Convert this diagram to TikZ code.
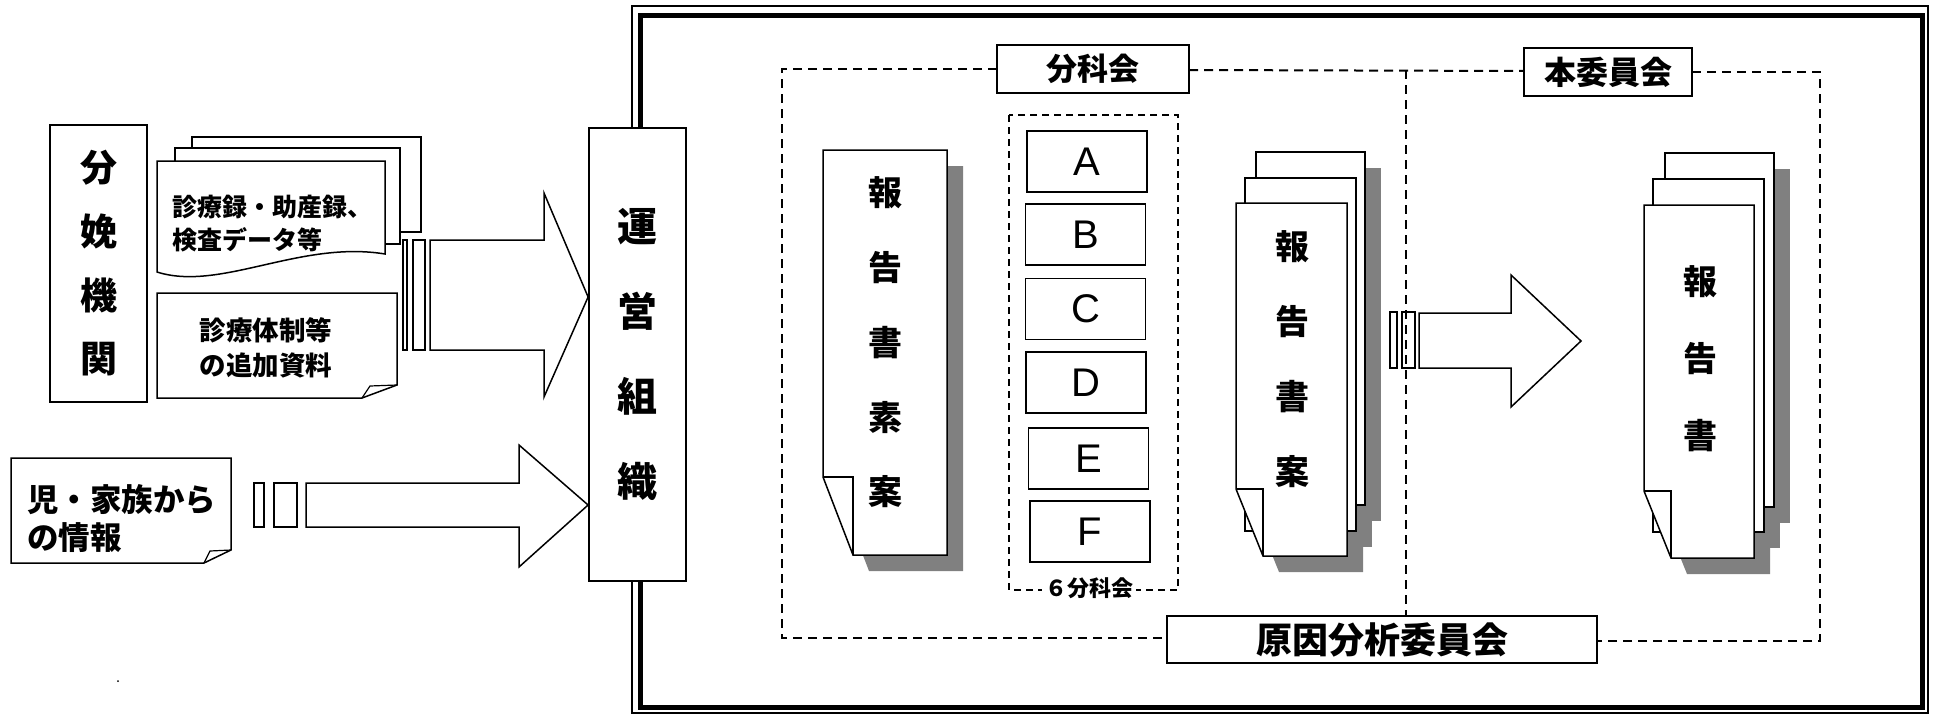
\documentclass[tikz,border=0pt]{standalone}
\usepackage{fontspec}
\setmainfont{Noto Sans CJK JP}
\newfontfamily\latinsans{Liberation Sans}
\begin{document}
\begin{tikzpicture}[x=1pt,y=-1pt,
  ln/.style={draw=black,line width=1.5pt},
  boxn/.style={draw=black,line width=1.8pt,fill=white,inner sep=0pt},
  dsh/.style={draw=black,line width=2pt,dash pattern=on 9pt off 6pt},
  dshs/.style={draw=black,line width=1.5pt,dash pattern=on 7pt off 5pt},
  shd/.style={fill=black!50,draw=none},
  paper/.style={draw=black,line width=1.5pt,fill=white},
  vtxt/.style={inner sep=0pt,align=center},
  abox/.style={boxn,line width=1.6pt,minimum width=120pt,minimum height=61pt,font=\latinsans\fontsize{40}{40}\selectfont},
]
\useasboundingbox (0,0) rectangle (1933,715);
\fill[white] (0,0) rectangle (1933,715);

% ---------- frame ----------
\draw[line width=1.2pt] (632,6) rectangle (1928,713);
\draw[line width=5pt] (640,15) rectangle (1922,707);

% ---------- left: 分娩機関 ----------
\node[boxn,minimum width=97pt,minimum height=277pt,align=center,
  font=\bfseries\fontsize{37}{63.7}\selectfont] (bunben) at (98.5,263.5) {分\\娩\\機\\関};

% document stack
\draw[paper] (192,137) rectangle (421,232);
\draw[paper] (175,148) rectangle (400,244);
\draw[paper] (157,161) -- (385,161) -- (385,254) .. controls (300,240) and (220,292) .. (157,272) -- cycle;
\node[inner sep=0pt,anchor=west,align=left,font=\bfseries\fontsize{25}{33}\selectfont] (docA) at (172,223.5) {診療録・助産録、\\検査データ等};

\draw[paper] (157,293) -- (397,293) -- (397,385) -- (362,398) -- (157,398) -- cycle;
\draw[ln,line width=1.2pt] (362,398) -- (370,386) -- (397,385);
\node[inner sep=0pt,align=center,font=\bfseries\fontsize{26.5}{35}\selectfont] (docB) at (266,347.5) {診療体制等\\の追加資料};

% child / family info
\draw[paper] (11,458) -- (231,458) -- (231,550) -- (204,563) -- (11,563) -- cycle;
\draw[ln,line width=1.2pt] (204,563) -- (210,551) -- (231,550);
\node[inner sep=0pt,anchor=west,align=left,font=\bfseries\fontsize{31.5}{38}\selectfont] (kazoku) at (27,519) {児・家族から\\の情報};
\fill (118,681) circle (1pt);

% ---------- 運営組織 ----------
\node[boxn,minimum width=97pt,minimum height=453pt,align=center,
  font=\bfseries\fontsize{40}{85}\selectfont] (unei) at (637.5,354.5) {運\\営\\組\\織};

% upper block arrow
\draw[ln] (403,240) rectangle (407,350);
\draw[ln] (413,240) rectangle (425,350);
\draw[ln,fill=white] (430,240) -- (544,240) -- (544,193) -- (unei.west |- 0,297) -- (544,397) -- (544,350) -- (430,350) -- cycle;

% lower block arrow
\draw[ln] (254,483) rectangle (264,527);
\draw[ln] (274,483) rectangle (297,527);
\draw[ln,fill=white] (306,483) -- (519,483) -- (519,445) -- (unei.west |- 0,505) -- (519,567) -- (519,527) -- (306,527) -- cycle;

% ---------- dashed committee regions ----------
\draw[dsh] (997,69) -- (782,69) -- (782,638) -- (1167,638);
\draw[dsh] (1189,70) -- (1524,71);
\draw[dsh] (1692,72) -- (1820,72) -- (1820,641) -- (1597,641);
\draw[dsh] (1406,70) -- (1406,616);

\node[boxn,minimum width=192pt,minimum height=48pt,font=\bfseries\fontsize{31}{31}\selectfont] (bunka) at (1093,69) {分科会};
\node[boxn,minimum width=168pt,minimum height=48pt,font=\bfseries\fontsize{32}{32}\selectfont] (honiin) at (1608,72) {本委員会};
\node[boxn,minimum width=430pt,minimum height=47pt,font=\bfseries\fontsize{36}{36}\selectfont] (genin) at (1382,639.5) {原因分析委員会};

% ---------- 報告書素案 ----------
\fill[shd] (839,166) -- (963,166) -- (963,571) -- (869,571) -- (839,493) -- cycle;
\draw[paper] (823,150) -- (947,150) -- (947,555) -- (853,555) -- (823,477) -- cycle;
\draw[ln,line width=1.3pt] (823,477) -- (853,477) -- (853,555);
\node[vtxt,font=\bfseries\fontsize{34}{74.75}\selectfont] (sosan) at (885,342.5) {報\\告\\書\\素\\案};

% ---------- 6分科会 ----------
\draw[dshs] (1009,115) rectangle (1178,590);
\node[abox] (A) at (1087,161.5) {A};
\node[abox] (B) at (1085.5,234.5) {B};
\node[abox] (C) at (1085.5,309) {C};
\node[abox] (D) at (1086,382.5) {D};
\node[abox] (E) at (1088.5,458.5) {E};
\node[abox] (F) at (1090,531.5) {F};
\node[fill=white,inner sep=3pt,font=\bfseries\fontsize{22}{22}\selectfont] (six) at (1089,588) {６分科会};

% ---------- 報告書案 stack ----------
\fill[shd] (1272,168) rectangle (1381,521);
\fill[shd] (1261,194) rectangle (1372,547);
\fill[shd] (1252,219) -- (1363,219) -- (1363,572) -- (1279,572) -- (1252,505) -- cycle;
\draw[paper] (1256,152) rectangle (1365,505);
\draw[paper] (1245,178) rectangle (1356,531);
\draw[paper] (1236,203) -- (1347,203) -- (1347,556) -- (1263,556) -- (1236,489) -- cycle;
\draw[ln,line width=1.3pt] (1236,489) -- (1263,489) -- (1263,556);
\node[vtxt,font=\bfseries\fontsize{34}{75}\selectfont] (an) at (1292,359.5) {報\\告\\書\\案};

% right block arrow
\draw[ln] (1390,312) rectangle (1397,368);
\draw[ln] (1402,312) rectangle (1415,368);
\draw[ln,fill=white] (1419,313) -- (1511,313) -- (1511,275) -- (1581,341) -- (1511,407) -- (1511,368) -- (1419,368) -- cycle;

% ---------- 報告書 stack ----------
\fill[shd] (1681,169) rectangle (1790,523);
\fill[shd] (1669,195) rectangle (1780,548);
\fill[shd] (1660,221) -- (1770,221) -- (1770,574) -- (1687,574) -- (1660,507) -- cycle;
\draw[paper] (1665,153) rectangle (1774,507);
\draw[paper] (1653,179) rectangle (1764,532);
\draw[paper] (1644,205) -- (1754,205) -- (1754,558) -- (1671,558) -- (1644,491) -- cycle;
\draw[ln,line width=1.3pt] (1644,491) -- (1671,491) -- (1671,558);
\node[vtxt,font=\bfseries\fontsize{34}{77}\selectfont] (hokoku) at (1700,359) {報\\告\\書};

\end{tikzpicture}
\end{document}
